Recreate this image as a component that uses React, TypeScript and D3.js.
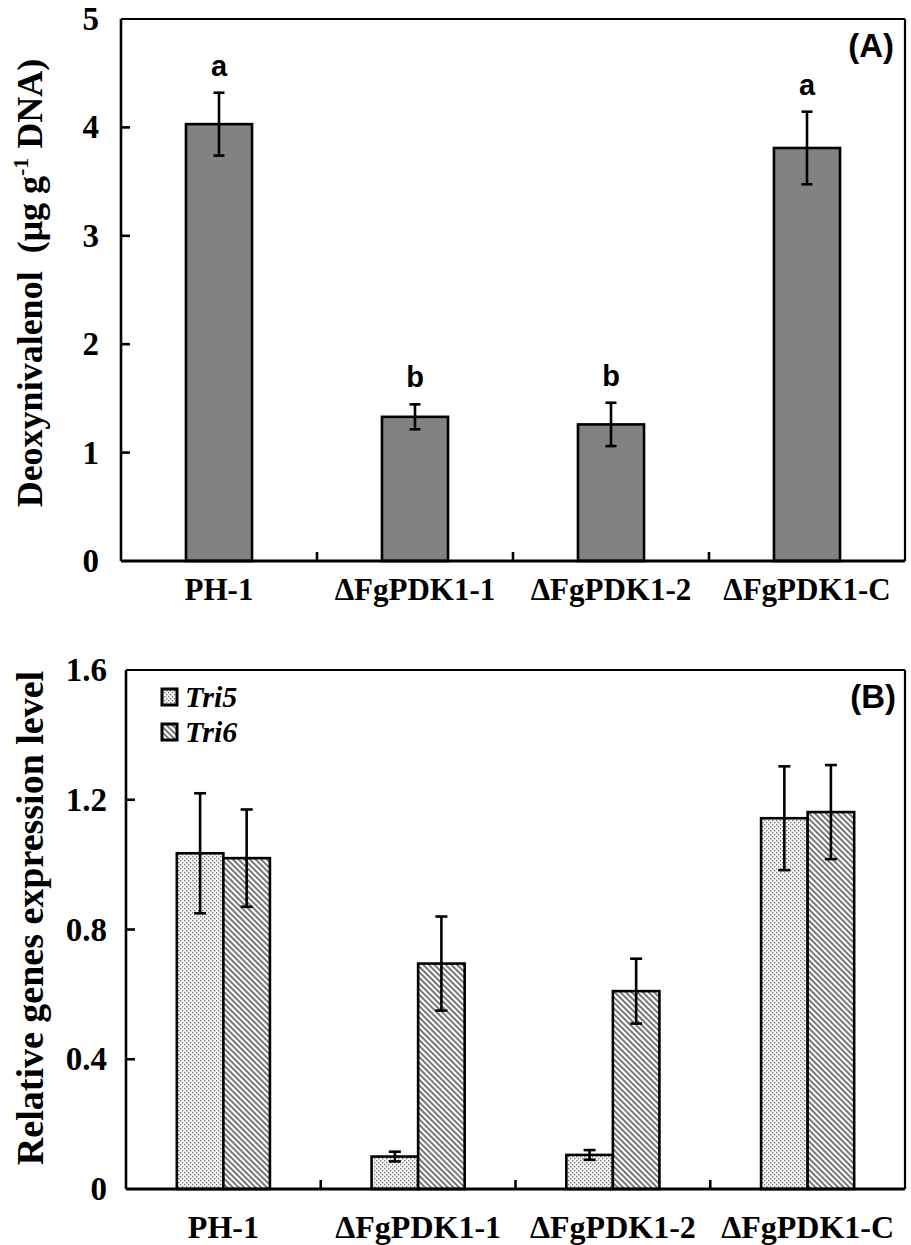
import React from "react";
import * as d3 from "d3";

// categories and values
const strains = ["PH-1", "ΔFgPDK1-1", "ΔFgPDK1-2", "ΔFgPDK1-C"];
const donMean = [4.03, 1.33, 1.26, 3.81];
const donErr = [0.29, 0.115, 0.2, 0.335];
const donLetters = ["a", "b", "b", "a"];
const donTicks = [0, 1, 2, 3, 4, 5];

const genes = ["Tri5", "Tri6"];
const tri5Mean = [1.035, 0.1, 0.105, 1.143];
const tri5Err = [0.185, 0.015, 0.015, 0.16];
const tri6Mean = [1.02, 0.695, 0.61, 1.162];
const tri6Err = [0.15, 0.145, 0.1, 0.145];
const exprTicks = [0, 0.4, 0.8, 1.2, 1.6];

const serif = "'Liberation Serif', 'Times New Roman', serif";
const sans = "'Liberation Sans', Arial, sans-serif";
const SW = 2.6;

const ErrBar = ({x, y0, y1, cap}: {x: number; y0: number; y1: number; cap: number}) => (
  <g stroke="#000" strokeWidth={SW}>
    <line x1={x} x2={x} y1={y0} y2={y1} />
    <line x1={x - cap / 2} x2={x + cap / 2} y1={y0} y2={y0} />
    <line x1={x - cap / 2} x2={x + cap / 2} y1={y1} y2={y1} />
  </g>
);

const Frame = ({left, right, top, bottom}: any) => (
  <g fill="none" stroke="#000">
    <line x1={left} x2={right} y1={top} y2={top} strokeWidth={2.2} />
    <line x1={right} x2={right} y1={top} y2={bottom} strokeWidth={2.2} />
    <line x1={left} x2={left} y1={top} y2={bottom} strokeWidth={SW} />
    <line x1={left} x2={right} y1={bottom} y2={bottom} strokeWidth={3} />
  </g>
);

const PanelA = () => {
  const left = 121, right = 905, top = 19, bottom = 561;
  const x = d3.scaleBand().domain(strains).range([left, right]);
  const y = d3.scaleLinear().domain([0, 5]).range([bottom, top]);
  const bw = x.bandwidth() * 0.337;
  return (
    <g>
      {/* bars */}
      {strains.map((s, i) => {
        const cx = (x(s) as number) + x.bandwidth() / 2;
        return (
          <g key={s}>
            <rect x={cx - bw / 2} y={y(donMean[i])} width={bw} height={bottom - y(donMean[i])}
              fill="#828282" stroke="#000" strokeWidth={SW} />
            <ErrBar x={cx} y0={y(donMean[i] + donErr[i])} y1={y(donMean[i] - donErr[i])} cap={11} />
            <text x={cx} y={y(donMean[i] + donErr[i]) - 17} textAnchor="middle"
              fontFamily={sans} fontWeight="bold" fontSize={29}>{donLetters[i]}</text>
          </g>
        );
      })}
      <Frame left={left} right={right} top={top} bottom={bottom} />
      {/* y ticks */}
      {donTicks.map((t) => (
        <g key={t}>
          {t > 0 && t < 5 && <line x1={left} x2={left + 9} y1={y(t)} y2={y(t)} stroke="#000" strokeWidth={SW} />}
          <text x={left - 22} y={y(t) + 11} textAnchor="end" fontFamily={serif} fontWeight="bold" fontSize={33}>{t}</text>
        </g>
      ))}
      {/* x ticks between categories */}
      {strains.slice(1).map((s) => (
        <line key={s} x1={x(s)} x2={x(s)} y1={bottom} y2={bottom - 9} stroke="#000" strokeWidth={SW} />
      ))}
      {strains.map((s) => (
        <text key={s} x={(x(s) as number) + x.bandwidth() / 2} y={600} textAnchor="middle"
          fontFamily={serif} fontWeight="bold" fontSize={31}>{s}</text>
      ))}
      <text transform="translate(42,283) rotate(-90)" textAnchor="middle" fontFamily={serif}
        fontWeight="bold" fontSize={36} style={{whiteSpace: "pre"}}>
        {"Deoxynivalenol  (μg g"}
        <tspan fontSize={22} dy={-14}>-1</tspan>
        <tspan dy={14}>{" DNA)"}</tspan>
      </text>
      <text x={894} y={57} textAnchor="end" fontFamily={sans} fontWeight="bold" fontSize={33}>(A)</text>
    </g>
  );
};

const PanelB = () => {
  const left = 126, right = 905, top = 670, bottom = 1189;
  const x = d3.scaleBand().domain(strains).range([left, right]);
  const y = d3.scaleLinear().domain([0, 1.6]).range([bottom, top]);
  const pairW = x.bandwidth() * 0.478;
  const sub = d3.scaleBand().domain(genes).range([-pairW / 2, pairW / 2]);
  const means = [tri5Mean, tri6Mean];
  const errs = [tri5Err, tri6Err];
  const fills = ["url(#dots)", "url(#hatch)"];
  return (
    <g>
      {strains.map((s, i) => {
        const cx = (x(s) as number) + x.bandwidth() / 2;
        return (
          <g key={s}>
            {genes.map((g, j) => {
              const bx = cx + (sub(g) as number);
              const m = means[j][i];
              return (
                <rect key={g} x={bx} y={y(m)} width={sub.bandwidth()} height={bottom - y(m)}
                  fill={fills[j]} stroke="#000" strokeWidth={SW} />
              );
            })}
            {genes.map((g, j) => {
              const bx = cx + (sub(g) as number) + sub.bandwidth() / 2;
              const m = means[j][i], e = errs[j][i];
              return <ErrBar key={g} x={bx} y0={y(m + e)} y1={y(m - e)} cap={12} />;
            })}
          </g>
        );
      })}
      <Frame left={left} right={right} top={top} bottom={bottom} />
      {exprTicks.map((t) => (
        <g key={t}>
          {t > 0 && t < 1.6 && <line x1={left} x2={left + 9} y1={y(t)} y2={y(t)} stroke="#000" strokeWidth={SW} />}
          <text x={left - 19} y={y(t) + 11} textAnchor="end" fontFamily={serif} fontWeight="bold" fontSize={33}>{t === 0 ? "0" : t.toFixed(1)}</text>
        </g>
      ))}
      {strains.slice(1).map((s) => (
        <line key={s} x1={x(s)} x2={x(s)} y1={bottom} y2={bottom - 9} stroke="#000" strokeWidth={SW} />
      ))}
      {strains.map((s) => (
        <text key={s} x={(x(s) as number) + x.bandwidth() / 2} y={1238} textAnchor="middle"
          fontFamily={serif} fontWeight="bold" fontSize={32}>{s}</text>
      ))}
      <text transform="translate(43,918) rotate(-90)" textAnchor="middle" fontFamily={serif}
        fontWeight="bold" fontSize={38}>Relative genes expression level</text>
      {/* legend */}
      {genes.map((g, j) => (
        <g key={g}>
          <rect x={162} y={689 + j * 35} width={15} height={16} fill={fills[j]} stroke="#000" strokeWidth={3} />
          <text x={185} y={707 + j * 35} fontFamily={serif} fontWeight="bold" fontStyle="italic" fontSize={30}>{g}</text>
        </g>
      ))}
      <text x={896} y={708} textAnchor="end" fontFamily={sans} fontWeight="bold" fontSize={33}>(B)</text>
    </g>
  );
};

export default function App() {
  return (
    <svg width={911} height={1245} style={{position: "absolute", left: 0, top: 0, background: "#fff"}}>
      <defs>
        <pattern id="dots" patternUnits="userSpaceOnUse" width={4} height={4}>
          <rect width={4} height={4} fill="#f4f4f4" />
          <rect x={0} y={0} width={1.3} height={1.3} fill="#777" />
          <rect x={2} y={2} width={1.3} height={1.3} fill="#777" />
        </pattern>
        <pattern id="hatch" patternUnits="userSpaceOnUse" width={4} height={4} patternTransform="rotate(-45)">
          <rect width={4} height={4} fill="#fff" />
          <line x1={1} x2={1} y1={0} y2={4} stroke="#555" strokeWidth={1.6} />
        </pattern>
      </defs>
      <rect width={911} height={1245} fill="#fff" />
      <PanelA />
      <PanelB />
    </svg>
  );
}
